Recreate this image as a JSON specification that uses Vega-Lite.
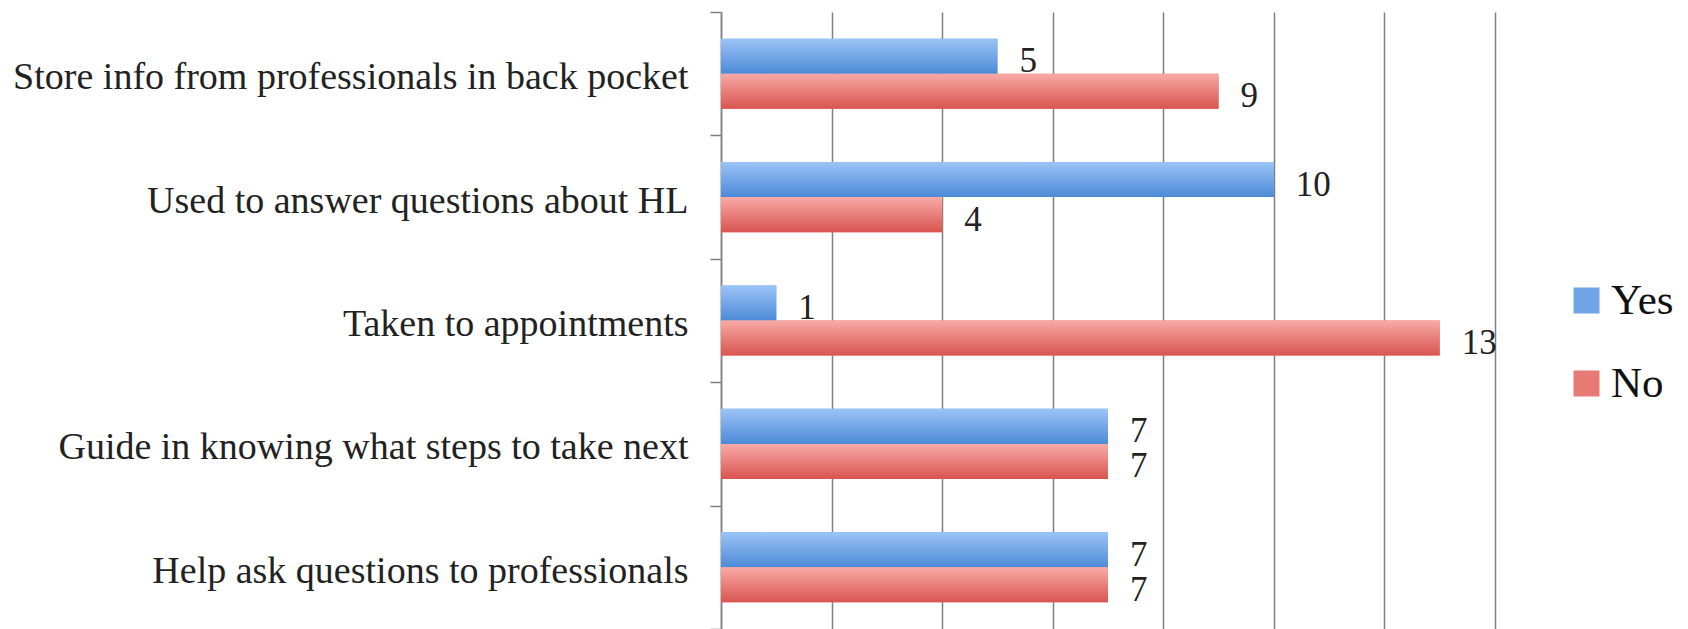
{
  "$schema": "https://vega.github.io/schema/vega-lite/v6.json",
  "autosize": {"type": "none"},
  "width": 774,
  "height": 617,
  "padding": {"left": 721, "top": 12, "right": 193, "bottom": 0},
  "background": "white",
  "config": {
    "view": {"stroke": null},
    "font": "Liberation Serif"
  },
  "data": {
    "values": [
      {"item": "Store info from professionals in back pocket", "answer": "Yes", "count": 5},
      {"item": "Store info from professionals in back pocket", "answer": "No", "count": 9},
      {"item": "Used to answer questions about HL", "answer": "Yes", "count": 10},
      {"item": "Used to answer questions about HL", "answer": "No", "count": 4},
      {"item": "Taken to appointments", "answer": "Yes", "count": 1},
      {"item": "Taken to appointments", "answer": "No", "count": 13},
      {"item": "Guide in knowing what steps to take next", "answer": "Yes", "count": 7},
      {"item": "Guide in knowing what steps to take next", "answer": "No", "count": 7},
      {"item": "Help ask questions to professionals", "answer": "Yes", "count": 7},
      {"item": "Help ask questions to professionals", "answer": "No", "count": 7}
    ]
  },
  "encoding": {
    "y": {
      "field": "item",
      "type": "nominal",
      "sort": null,
      "title": null,
      "scale": {"paddingInner": 0, "paddingOuter": 0},
      "axis": {
        "tickBand": "extent",
        "tickSize": 11,
        "tickColor": "#808080",
        "tickWidth": 1.5,
        "domainColor": "#808080",
        "domainWidth": 1.5,
        "labelFont": "Liberation Serif",
        "labelFontSize": 38,
        "labelColor": "#222222",
        "labelPadding": 22,
        "labelOffset": 4,
        "labelLimit": 800
      }
    },
    "yOffset": {
      "field": "answer",
      "type": "nominal",
      "sort": ["Yes", "No"],
      "scale": {"domain": ["Yes", "No"], "paddingInner": 0, "paddingOuter": 0.76}
    },
    "x": {
      "field": "count",
      "type": "quantitative",
      "title": null,
      "scale": {"domain": [0, 14], "nice": false},
      "axis": {
        "values": [0, 2, 4, 6, 8, 10, 12, 14],
        "labels": false,
        "ticks": false,
        "domain": false,
        "grid": true,
        "gridColor": "#808080",
        "gridWidth": 1.5
      }
    }
  },
  "layer": [
    {
      "mark": {"type": "bar"},
      "encoding": {
        "color": {
          "field": "answer",
          "type": "nominal",
          "title": null,
          "scale": {"domain": ["Yes", "No"], "range": ["#6fa4e6", "#e87a76"]},
          "legend": {
            "orient": "none",
            "legendX": 844,
            "legendY": 267,
            "padding": 0,
            "symbolType": "square",
            "symbolSize": 676,
            "symbolStrokeWidth": 0,
            "labelFont": "Liberation Serif",
            "labelFontSize": 43,
            "labelColor": "#111111",
            "labelOffset": 3,
            "rowPadding": 39,
            "encode": {
              "symbols": {
                "update": {
                  "fill": {"signal": "datum.value === 'Yes' ? {gradient: 'linear', x1: 0, y1: 0, x2: 0, y2: 1, stops: [{offset: 0, color: '#9cc4f6'}, {offset: 1, color: '#4c8ad7'}]} : {gradient: 'linear', x1: 0, y1: 0, x2: 0, y2: 1, stops: [{offset: 0, color: '#f8aaa7'}, {offset: 1, color: '#d9544f'}]}"}
                }
              }
            }
          }
        }
      }
    },
    {
      "transform": [{"filter": "datum.answer === 'Yes'"}],
      "mark": {
        "type": "bar",
        "color": {"gradient": "linear", "x1": 0, "y1": 0, "x2": 0, "y2": 1, "stops": [{"offset": 0, "color": "#9cc4f6"}, {"offset": 1, "color": "#4c8ad7"}]}
      },
      "encoding": {}
    },
    {
      "transform": [{"filter": "datum.answer === 'No'"}],
      "mark": {
        "type": "bar",
        "color": {"gradient": "linear", "x1": 0, "y1": 0, "x2": 0, "y2": 1, "stops": [{"offset": 0, "color": "#f8aaa7"}, {"offset": 1, "color": "#d9544f"}]}
      },
      "encoding": {}
    },
    {
      "mark": {
        "type": "text",
        "align": "left",
        "baseline": "middle",
        "dx": 22,
        "dy": 5,
        "font": "Liberation Serif",
        "fontSize": 35,
        "color": "#222222"
      },
      "encoding": {
        "text": {"field": "count", "type": "quantitative"}
      }
    }
  ]
}
